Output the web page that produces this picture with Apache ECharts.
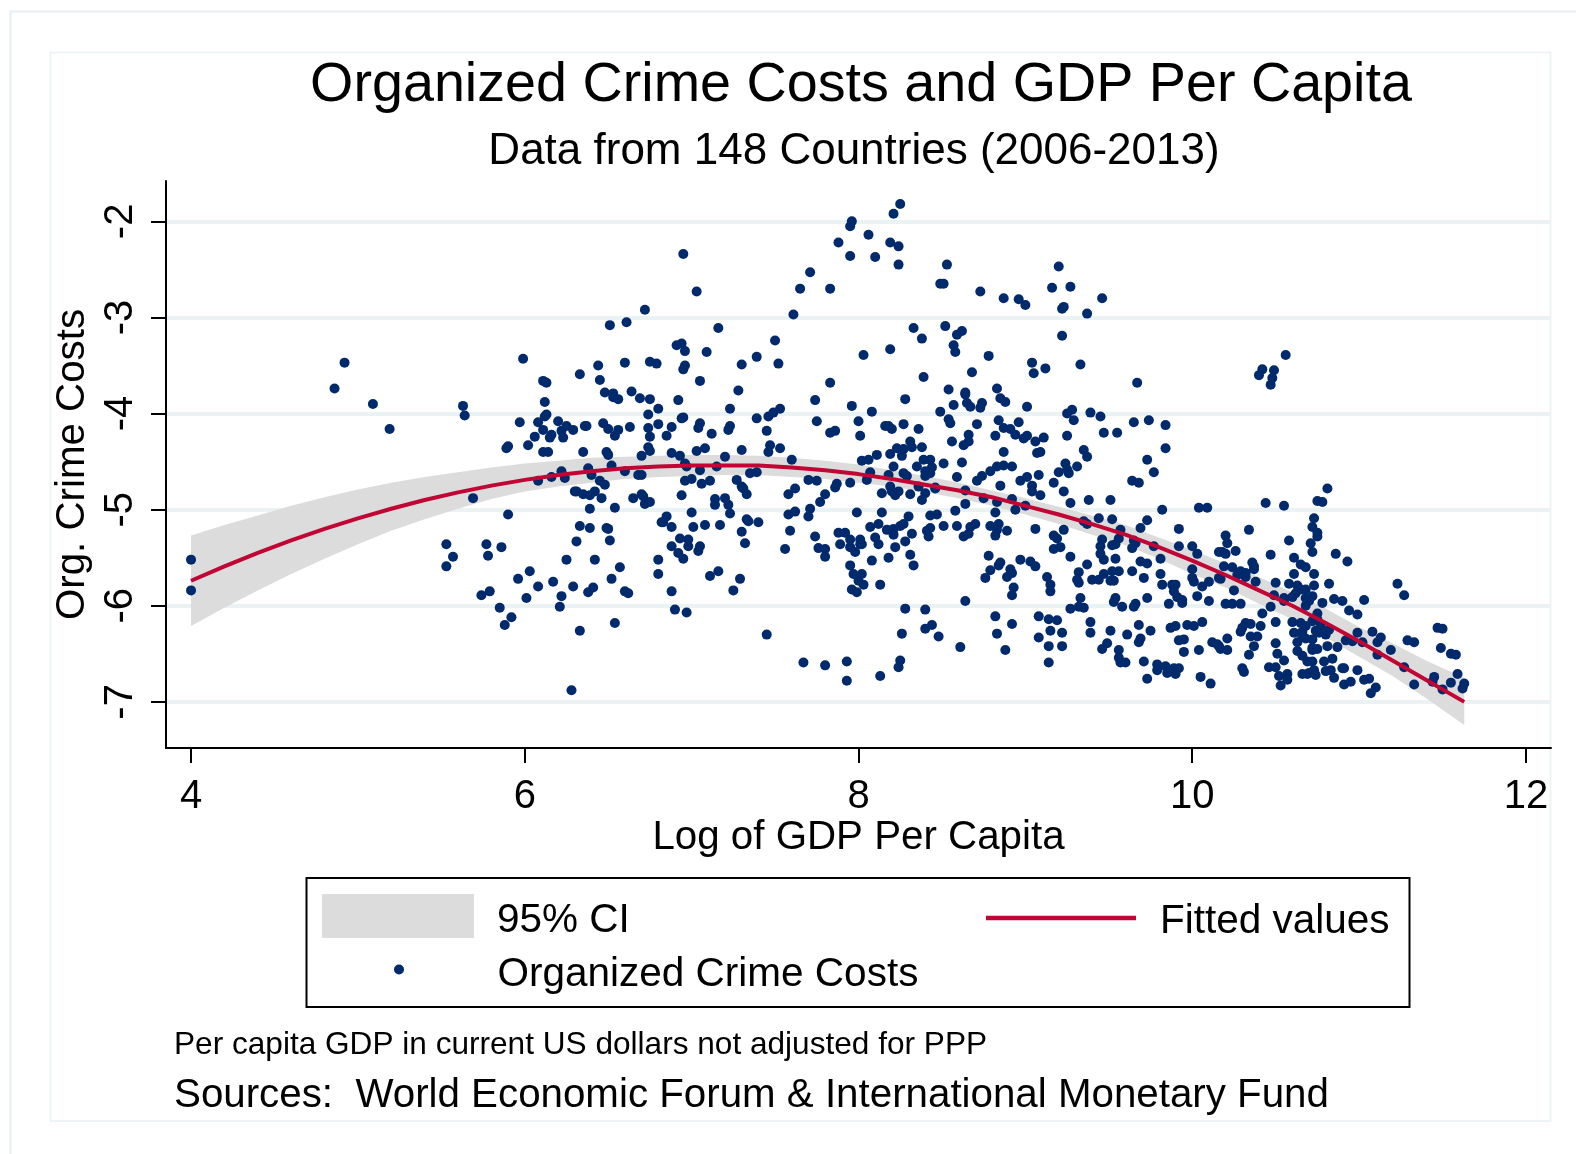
<!DOCTYPE html>
<html><head><meta charset="utf-8">
<style>html,body{margin:0;padding:0;background:#fff}#c{width:1576px;height:1154px}</style>
<script src="https://cdn.jsdelivr.net/npm/echarts@6/dist/echarts.min.js"></script></head>
<body><div id="c"></div>
<script>
const xTicks=[4,6,8,10,12];
const yTicks=[-7,-6,-5,-4,-3,-2];
const bandX=[4,4.2,4.4,4.6,4.8,5,5.2,5.4,5.6,5.8,6,6.2,6.4,6.6,6.8,7,7.2,7.4,7.6,7.8,8,8.2,8.4,8.6,8.8,9,9.2,9.4,9.6,9.8,10,10.2,10.4,10.6,10.8,11,11.2,11.4,11.63];
const fitted=[-5.74,-5.59,-5.45,-5.32,-5.2,-5.09,-4.99,-4.9,-4.82,-4.75,-4.69,-4.64,-4.6,-4.57,-4.55,-4.54,-4.54,-4.54,-4.56,-4.59,-4.63,-4.68,-4.74,-4.8,-4.87,-4.96,-5.05,-5.15,-5.26,-5.39,-5.53,-5.68,-5.84,-6,-6.18,-6.37,-6.57,-6.77,-7];
const upperCI=[-5.27,-5.16,-5.06,-4.96,-4.87,-4.79,-4.72,-4.66,-4.61,-4.56,-4.52,-4.49,-4.46,-4.45,-4.44,-4.43,-4.43,-4.44,-4.46,-4.49,-4.53,-4.59,-4.65,-4.72,-4.8,-4.88,-4.97,-5.06,-5.16,-5.29,-5.42,-5.56,-5.7,-5.86,-6.03,-6.22,-6.39,-6.57,-6.75];
const lowerCI=[-6.21,-6.02,-5.84,-5.67,-5.51,-5.36,-5.22,-5.1,-4.99,-4.89,-4.81,-4.76,-4.72,-4.68,-4.66,-4.65,-4.64,-4.64,-4.66,-4.68,-4.72,-4.76,-4.82,-4.88,-4.96,-5.05,-5.15,-5.26,-5.37,-5.51,-5.67,-5.81,-5.98,-6.14,-6.33,-6.53,-6.73,-6.96,-7.24];
const pointsA=[[4.92,-3.47],[4.86,-3.74],[5.09,-3.9],[5.19,-4.16],[5.63,-3.92],[5.64,-4.02],[5.99,-3.43],[5.97,-4.09],[6.08,-4.09],[6.11,-3.66],[6.13,-3.68],[6.12,-3.88],[6.13,-4.01],[6.12,-4.03],[6.2,-4.08],[6.11,-4.17],[6.16,-4.22],[6.15,-4.25],[6.06,-4.24],[6.02,-4.33],[5.9,-4.34],[5.89,-4.36],[6.11,-4.4],[6.14,-4.4],[6.22,-4.18],[6.25,-4.13],[6.23,-4.25],[6.29,-4.17],[6.36,-4.13],[6.37,-4.13],[6.33,-3.59],[6.44,-3.5],[6.45,-3.65],[6.51,-3.08],[6.61,-3.05],[6.72,-2.92],[6.6,-3.47],[6.75,-3.46],[6.79,-3.48],[6.48,-3.78],[6.53,-3.79],[6.53,-3.83],[6.56,-3.85],[6.64,-3.77],[6.69,-3.84],[6.75,-3.85],[6.8,-3.95],[6.74,-4.01],[6.47,-4.1],[6.5,-4.16],[6.56,-4.17],[6.54,-4.23],[6.63,-4.14],[6.74,-4.15],[6.8,-4.11],[6.75,-4.24],[6.74,-4.35],[6.75,-4.39],[6.7,-4.44],[6.35,-4.4],[6.49,-4.4],[6.5,-4.43],[6.52,-4.54],[6.38,-4.57],[6.6,-4.6],[6.22,-4.6],[6.16,-4.66],[6.24,-4.67],[6.4,-4.64],[6.45,-4.7],[6.68,-4.64],[6.7,-4.64],[6.08,-4.7]];
const pointsB=[[6.48,-4.74],[6.3,-4.81],[6.31,-4.81],[6.42,-4.81],[6.35,-4.84],[6.39,-4.85],[6.46,-4.88],[6.65,-4.88],[6.7,-4.84],[6.71,-4.86],[6.72,-4.94],[6.75,-4.92],[6.39,-4.99],[6.54,-4.98],[5.69,-4.88],[5.9,-5.05],[6.33,-5.17],[6.39,-5.19],[6.49,-5.19],[6.5,-5.2],[6.31,-5.33],[6.51,-5.32],[6.82,-5.13],[5.53,-5.36],[5.77,-5.36],[5.86,-5.39],[5.57,-5.49],[5.78,-5.48],[5.53,-5.59],[6.25,-5.52],[6.42,-5.52],[6.8,-5.52],[6.57,-5.6],[6.03,-5.64],[5.96,-5.72],[6.52,-5.72],[6.8,-5.67],[6.17,-5.75],[6.08,-5.8],[6.29,-5.8],[6.41,-5.81],[6.38,-5.86],[6.6,-5.85],[6.62,-5.87],[5.79,-5.85],[5.74,-5.89],[6.01,-5.92],[6.22,-5.9],[5.85,-6.02],[6.21,-6.01],[5.92,-6.12],[5.88,-6.2],[6.54,-6.18],[6.33,-6.26],[6.28,-6.88],[4,-5.52],[4,-5.84]];
const pointsC=[[6.88,-4.14],[6.85,-4.23],[6.88,-4.41],[6.95,-2.34],[7.03,-2.73],[7.16,-3.11],[6.91,-3.29],[6.94,-3.27],[6.96,-3.35],[7.09,-3.36],[6.96,-3.5],[6.95,-3.54],[7.05,-3.66],[7.28,-3.76],[7.3,-3.49],[7.39,-3.41],[7.5,-3.24],[7.52,-3.48],[7.61,-2.97],[7.65,-2.7],[7.71,-2.53],[7.83,-2.7],[7.88,-2.22],[7.95,-2.36],[7.95,-2.05],[7.96,-2],[8.06,-2.14],[8.1,-2.37],[8.19,-2.22],[8.24,-2.26],[8.24,-2.45],[8.21,-1.92],[8.25,-1.82],[8.49,-2.65],[8.33,-3.11],[8.38,-3.22],[8.19,-3.33],[8.03,-3.39],[8.39,-3.62],[7.83,-3.68],[7.74,-3.86],[8.28,-3.85],[7.96,-3.92],[8.08,-3.98],[8.49,-3.98],[6.92,-3.86],[7.23,-3.95],[6.95,-4.04],[6.94,-4.05],[7.05,-4.1],[7.04,-4.15],[7.12,-4.21],[7.23,-4.13],[7.22,-4.17],[7.39,-4.05],[7.46,-4.03],[7.49,-3.99],[7.53,-3.95],[7.45,-4.18],[7.75,-4.08],[7.86,-4.18],[7.83,-4.2],[8,-4.08],[8.01,-4.23],[8.16,-4.13],[8.18,-4.13],[8.2,-4.16],[8.27,-4.11],[8.36,-4.16],[7.47,-4.33],[7.46,-4.4],[7.53,-4.36],[7.3,-4.38],[7.08,-4.36],[7.03,-4.39],[6.93,-4.44],[7.2,-4.45],[7.6,-4.48],[6.96,-4.52],[6.97,-4.55],[7.15,-4.55],[7.05,-4.59],[7.35,-4.62],[7.39,-4.61],[8.31,-4.29],[8.32,-4.35],[8.23,-4.36],[8.27,-4.37],[8.38,-4.35],[8.19,-4.42],[8.26,-4.44],[8.11,-4.43],[8.02,-4.49],[8.06,-4.48],[8.21,-4.55],[8.35,-4.55],[8.39,-4.48],[8.43,-4.48],[8.44,-4.56],[8.4,-4.6],[8.43,-4.62],[8.07,-4.61],[8.18,-4.64],[8.27,-4.62],[8.29,-4.65]];
const pointsD=[[6.96,-4.7],[7,-4.68],[7.06,-4.73],[7.11,-4.7],[7.27,-4.69],[7.3,-4.76],[7.31,-4.78],[7.33,-4.84],[6.94,-4.85],[7.14,-4.89],[7.14,-4.95],[7.2,-4.88],[7.22,-4.95],[7.23,-5.04],[7,-5.03],[6.85,-5.07],[6.83,-5.13],[6.88,-5.18],[7.01,-5.18],[7.08,-5.16],[7.17,-5.16],[7.33,-5.1],[7.34,-5.12],[7.4,-5.13],[7.3,-5.23],[7.32,-5.35],[6.93,-5.3],[6.98,-5.31],[6.88,-5.38],[6.98,-5.38],[7.05,-5.38],[7.04,-5.43],[6.92,-5.45],[6.95,-5.51],[6.88,-5.85],[6.9,-6.04],[6.97,-6.07],[7.11,-5.69],[7.16,-5.64],[7.29,-5.72],[7.25,-5.84],[7.45,-6.3],[7.67,-6.59],[7.8,-6.62],[7.93,-6.58],[7.93,-6.78],[8.13,-6.73],[8.25,-6.57],[8.24,-6.64],[8.26,-6.29],[8.28,-6.03],[8.4,-6.04],[8.44,-6.2],[8.4,-6.24],[8.48,-6.32],[7.56,-5.41],[7.59,-5.22],[7.58,-5.05],[7.62,-5.02],[7.58,-4.84],[7.62,-4.78],[7.7,-4.69],[7.75,-4.7],[7.87,-4.73],[7.86,-4.77],[7.95,-4.72],[8.05,-4.69],[7.8,-4.84],[7.77,-4.92],[7.71,-4.99],[7.7,-5.07],[7.74,-5.28],[7.76,-5.4],[7.8,-5.41],[7.8,-5.49],[7.88,-5.24],[7.92,-5.24],[7.89,-5.36],[7.95,-5.31],[8.01,-5.31],[8.01,-5.36],[8.02,-5.36],[7.95,-5.39],[7.98,-5.44],[7.99,-5.03],[7.95,-5.58],[7.97,-5.67],[8.02,-5.67],[8,-5.74],[8.03,-5.78],[7.96,-5.83],[7.99,-5.86],[8.13,-5.78],[8.08,-5.53],[8.18,-5.5],[8.22,-5.39],[8.31,-5.47],[8.33,-5.58],[8.12,-5.36],[8.1,-5.29],[8.07,-5.18],[8.12,-5.15],[8.17,-5.21],[8.21,-5.2],[8.21,-5.26],[8.25,-5.17],[8.27,-5.15],[8.3,-5.07],[8.32,-5.25],[8.28,-5.33],[8.14,-5.03],[8.14,-4.83],[8.19,-4.76],[8.2,-4.81],[8.22,-4.85],[8.24,-4.81],[8.31,-4.84],[8.36,-4.76],[8.4,-4.83],[8.38,-4.9],[8.46,-4.77],[8.43,-5.06],[8.47,-5.05],[8.41,-5.22],[8.43,-5.19],[8.42,-5.28]];
const pointsE=[[8.53,-2.45],[8.51,-2.65],[8.73,-2.73],[8.87,-2.8],[8.96,-2.81],[9,-2.87],[9.2,-2.47],[9.16,-2.69],[9.27,-2.68],[9.23,-2.89],[9.22,-2.91],[9.37,-2.96],[9.46,-2.8],[8.52,-3.09],[8.62,-3.14],[8.59,-3.18],[8.57,-3.29],[8.58,-3.36],[8.78,-3.4],[9.22,-3.19],[9.04,-3.47],[9.05,-3.58],[9.12,-3.53],[9.33,-3.49],[8.68,-3.57],[9.67,-3.68],[8.54,-3.75],[8.64,-3.78],[8.64,-3.8],[8.65,-3.89],[8.67,-3.93],[8.57,-3.91],[8.74,-3.89],[8.73,-3.94],[8.83,-3.74],[8.85,-3.84],[8.88,-3.88],[9.01,-3.93],[8.54,-4.06],[8.55,-4.1],[8.71,-4.11],[8.84,-4.07],[8.96,-4.09],[8.87,-4.15],[8.91,-4.16],[8.94,-4.22],[8.82,-4.23],[8.66,-4.22],[8.66,-4.29],[8.63,-4.33],[8.56,-4.29],[9.01,-4.23],[8.99,-4.26],[9.11,-4.25],[9.06,-4.29],[9.25,-4.23],[9.47,-4.2],[9.55,-4.2],[9.65,-4.09],[9.74,-4.07],[9.84,-4.12],[9.28,-3.96],[9.25,-4],[9.29,-4.07],[9.39,-3.99],[9.45,-4.03],[9.84,-4.36],[9.73,-4.48],[9.77,-4.61],[9.64,-4.7],[9.68,-4.72],[8.87,-4.4],[9.09,-4.4],[9.07,-4.41],[9.35,-4.38],[9.37,-4.45],[9.24,-4.52],[9.31,-4.55],[9.2,-4.61],[9.26,-4.62],[9.25,-4.58],[8.62,-4.51],[8.51,-4.52],[8.4,-4.65],[8.92,-4.55],[8.87,-4.54],[8.83,-4.55],[8.79,-4.6],[8.74,-4.65],[8.71,-4.7],[8.59,-4.66],[9.01,-4.66],[8.97,-4.7],[9.08,-4.64],[9.17,-4.72],[9.04,-4.75],[9.04,-4.81],[9.09,-4.85],[9.23,-4.81],[8.85,-4.75],[8.64,-4.8],[8.46,-4.78],[8.92,-4.89],[8.75,-4.88],[9.38,-4.9],[9.51,-4.9],[9.27,-4.93]];
const pointsF=[[8.64,-4.94],[8.83,-4.92],[8.94,-5],[9,-4.96],[8.58,-5.01],[8.82,-5.03],[9.82,-5],[10.04,-4.98],[10.09,-4.98],[9.44,-5.09],[9.52,-5.1],[9.35,-5.12],[9.37,-5.15],[9.73,-5.11],[9.69,-5.19],[9.57,-5.21],[9.92,-5.2],[8.51,-5.17],[8.59,-5.17],[8.7,-5.15],[8.67,-5.18],[8.66,-5.25],[8.63,-5.28],[8.79,-5.17],[8.84,-5.15],[8.83,-5.21],[8.82,-5.27],[8.89,-5.22],[9.06,-5.2],[9.23,-5.21],[9.17,-5.27],[9.19,-5.3],[9.21,-5.39],[9.17,-5.41],[9.46,-5.31],[9.45,-5.38],[9.45,-5.46],[9.47,-5.52],[9.56,-5.3],[9.54,-5.36],[9.52,-5.37],[9.65,-5.32],[9.66,-5.35],[9.64,-5.4],[9.77,-5.38],[9.92,-5.38],[10,-5.38],[10.03,-5.46],[10.16,-5.44],[8.78,-5.48],[8.85,-5.55],[8.84,-5.58],[8.97,-5.52],[9.03,-5.54],[9.06,-5.59],[9.27,-5.49],[9.37,-5.57],[9.54,-5.51],[9.69,-5.54],[9.73,-5.56],[9.81,-5.51],[10,-5.62],[8.79,-5.63],[8.91,-5.62],[8.92,-5.66],[8.89,-5.7],[8.76,-5.71],[9.13,-5.7],[9.32,-5.65],[9.31,-5.73],[9.32,-5.76],[9.4,-5.73],[9.44,-5.73],[9.47,-5.67],[9.52,-5.64],[9.56,-5.64],[9.51,-5.74],[9.53,-5.74],[9.64,-5.64],[9.71,-5.71],[9.81,-5.67],[10,-5.71],[10.01,-5.75],[10.1,-5.75],[10.06,-5.8],[10.16,-5.71],[9.88,-5.78],[9.9,-5.78],[9.89,-5.85],[9.82,-5.78],[9.15,-5.78],[9.15,-5.85],[8.93,-5.81],[8.92,-5.89],[8.64,-5.95],[9.33,-5.92],[9.27,-6.03],[9.32,-6.01],[9.35,-6.02],[9.54,-5.92],[9.53,-5.96],[9.58,-6.01],[9.66,-5.98],[9.65,-6.01],[9.73,-5.92],[9.86,-5.98],[9.91,-5.91],[9.94,-5.94],[9.94,-5.97],[10.03,-5.9],[10.1,-5.95],[8.61,-6.43],[8.82,-6.11],[8.92,-6.19],[8.83,-6.29],[8.88,-6.46],[9.08,-6.11],[9.14,-6.14],[9.19,-6.15],[9.15,-6.26],[9.22,-6.28],[9.08,-6.33],[9.14,-6.42],[9.22,-6.42],[9.14,-6.59],[9.39,-6.17],[9.39,-6.28],[9.51,-6.26],[9.61,-6.3],[9.68,-6.2],[9.75,-6.26],[9.69,-6.34],[9.68,-6.38],[9.49,-6.39],[9.46,-6.45],[9.56,-6.46],[9.56,-6.54],[9.57,-6.59],[9.6,-6.59],[9.71,-6.58],[9.87,-6.23],[9.9,-6.21],[9.97,-6.2],[10.01,-6.21],[10.06,-6.17],[9.92,-6.36],[9.95,-6.35],[9.95,-6.48],[10.04,-6.46],[10.12,-6.38],[10.16,-6.42],[9.79,-6.61],[9.79,-6.67],[9.84,-6.63],[9.85,-6.7],[9.89,-6.65],[9.9,-6.71],[9.92,-6.65],[9.73,-6.76],[10.05,-6.74],[10.11,-6.81]];
const pointsG=[[10.56,-3.39],[10.42,-3.54],[10.4,-3.6],[10.49,-3.55],[10.48,-3.63],[10.47,-3.7],[10.81,-4.78],[10.75,-4.91],[10.78,-4.92],[10.44,-4.93],[10.55,-4.96],[10.73,-5.09],[10.72,-5.18],[10.34,-5.21],[10.2,-5.27],[10.75,-5.24],[10.75,-5.28],[10.58,-5.32],[10.71,-5.35],[10.21,-5.35],[10.18,-5.44],[10.2,-5.46],[10.26,-5.43],[10.72,-5.44],[10.47,-5.47],[10.86,-5.46],[10.93,-5.54],[10.61,-5.5],[10.36,-5.55],[10.37,-5.59],[10.37,-5.62],[10.65,-5.57],[10.68,-5.6],[10.19,-5.59],[10.24,-5.6],[10.29,-5.64],[10.27,-5.68],[10.32,-5.66],[10.32,-5.7],[10.17,-5.72],[10.38,-5.75],[10.61,-5.67],[10.73,-5.67],[10.5,-5.76],[10.58,-5.77],[10.73,-5.79],[10.82,-5.77],[10.63,-5.79],[10.65,-5.83],[10.68,-5.83],[10.25,-5.84],[10.49,-5.89],[10.62,-5.87],[10.6,-5.91],[10.55,-5.92],[10.55,-5.95],[10.72,-5.9],[10.68,-5.92],[10.7,-5.95],[10.68,-6],[10.78,-5.97],[10.85,-5.93],[10.9,-5.95],[11.03,-5.94],[11.23,-5.77],[11.27,-5.89],[10.2,-5.98],[10.24,-5.98],[10.29,-5.98],[10.47,-6.01],[10.42,-6.08],[10.94,-6.05],[10.99,-6.09],[10.75,-6.08],[10.75,-6.14],[10.72,-6.16],[10.5,-6.17],[10.6,-6.17],[10.65,-6.18],[10.32,-6.18],[10.35,-6.19],[10.41,-6.21],[10.3,-6.23],[10.29,-6.27],[10.77,-6.21],[10.74,-6.26],[10.68,-6.21],[10.66,-6.27],[10.66,-6.32],[10.61,-6.28],[10.82,-6.25],[10.8,-6.3],[10.76,-6.28],[10.99,-6.28],[11.08,-6.27],[11.13,-6.33],[11.11,-6.38],[10.35,-6.32],[10.39,-6.32],[10.21,-6.34],[10.15,-6.4],[10.17,-6.45],[10.21,-6.46],[10.68,-6.34],[10.72,-6.35],[10.63,-6.38],[10.5,-6.39],[10.37,-6.42],[10.92,-6.36],[10.96,-6.37],[11.02,-6.38],[11.29,-6.36],[11.33,-6.38],[10.81,-6.42],[10.87,-6.43],[10.72,-6.44],[10.72,-6.46],[10.75,-6.45],[10.63,-6.47],[11.19,-6.46],[11.49,-6.44],[11.55,-6.5],[11.58,-6.51],[11.11,-6.51],[10.34,-6.51],[10.51,-6.5],[10.66,-6.52],[10.55,-6.57],[10.84,-6.55],[10.69,-6.58],[10.72,-6.58],[10.79,-6.58],[10.3,-6.65],[10.31,-6.69],[10.46,-6.64],[10.5,-6.64],[11.27,-6.64],[10.91,-6.65],[10.9,-6.65],[10.99,-6.67],[10.8,-6.68],[10.83,-6.67],[10.73,-6.67],[10.7,-6.7],[10.66,-6.71],[10.74,-6.72],[10.69,-6.71],[10.57,-6.71],[10.52,-6.73],[10.57,-6.77],[10.85,-6.75],[10.53,-6.83],[11.03,-6.77],[11.06,-6.76],[10.95,-6.79],[10.91,-6.82],[11.1,-6.85],[11.07,-6.91],[11.33,-6.82],[11.45,-6.74],[11.44,-6.79],[11.5,-6.87],[11.55,-6.8],[11.59,-6.71],[11.63,-6.81],[11.62,-6.86],[11.47,-6.23],[11.5,-6.24]];

const scatterData=[].concat(pointsA,pointsB,pointsC,pointsD,pointsE,pointsF,pointsG);
const fitData=bandX.map((x,i)=>[x,fitted[i]]);
const bandData=bandX.map((x,i)=>[x,upperCI[i],lowerCI[i]]);
const FONT='"Liberation Sans",Arial,sans-serif';
const legendText=function(topPad,leftPad){
  return {rich:{a:{fontFamily:FONT,fontSize:40.5,color:'#000',padding:[topPad,0,0,leftPad]}}};
};
const chart=echarts.init(document.getElementById('c'),null,{renderer:'canvas'});
chart.setOption({
  animation:false,backgroundColor:'#fff',
  title:[
    {text:'Organized Crime Costs and GDP Per Capita',left:861,top:58,padding:0,textAlign:'center',textStyle:{fontFamily:FONT,fontSize:55.7,fontWeight:'normal',color:'#000'}},
    {text:'Data from 148 Countries (2006-2013)',left:854,top:130,padding:0,textAlign:'center',textStyle:{fontFamily:FONT,fontSize:44,fontWeight:'normal',color:'#000'}},
    {text:'Per capita GDP in current US dollars not adjusted for PPP',left:174,top:1029,padding:0,textStyle:{fontFamily:FONT,fontSize:31.6,fontWeight:'normal',color:'#000'}},
    {text:'Sources:  World Economic Forum & International Monetary Fund',left:174,top:1076,padding:0,textStyle:{fontFamily:FONT,fontSize:40.3,fontWeight:'normal',color:'#000'}}
  ],
  grid:{left:166,right:25,top:181,bottom:406,containLabel:false},
  xAxis:{type:'value',min:3.85,max:12.15,name:'Log of GDP Per Capita',nameLocation:'middle',nameGap:66,
    nameTextStyle:{fontFamily:FONT,fontSize:40.3,color:'#000'},
    axisLine:{onZero:false,lineStyle:{color:'#000',width:2}},
    axisTick:{length:15,customValues:xTicks,lineStyle:{color:'#000',width:2}},
    axisLabel:{customValues:xTicks,showMinLabel:true,showMaxLabel:true,margin:29,fontFamily:FONT,fontSize:40,color:'#000'},
    splitLine:{show:false}},
  yAxis:{type:'value',min:-7.48,max:-1.58,name:'Org. Crime Costs',nameLocation:'middle',nameGap:65,nameRotate:90,
    nameTextStyle:{fontFamily:FONT,fontSize:40.3,color:'#000'},
    axisLine:{onZero:false,lineStyle:{color:'#000',width:2}},
    axisTick:{length:15,customValues:yTicks,lineStyle:{color:'#000',width:2}},
    axisLabel:{customValues:yTicks,rotate:90,margin:25,fontFamily:FONT,fontSize:40,color:'#000'},
    splitLine:{show:true,lineStyle:{color:'#eaf2f3',width:4}}},
  legend:[
    {data:[{name:'95% CI',icon:'rect'}],left:322,top:894,padding:0,itemWidth:152,itemHeight:44,itemGap:0,formatter:'{a|{name}}',textStyle:legendText(10,18),selectedMode:false},
    {data:[{name:'Fitted values',icon:'rect'}],left:986,top:901,padding:0,itemWidth:150,itemHeight:4.5,formatter:'{a|{name}}',textStyle:legendText(7,19),selectedMode:false},
    {data:['Organized Crime Costs'],left:394,top:954,padding:0,itemWidth:10,itemHeight:10,formatter:'{a|{name}}',textStyle:legendText(10,88.5),selectedMode:false}
  ],
  graphic:[
    {type:'rect',z:-20,silent:true,shape:{x:10.5,y:11.5,width:1600,height:1200},style:{fill:'#fff',stroke:'#eaf2f3',lineWidth:2.5}},
    {type:'rect',z:-10,silent:true,shape:{x:50.5,y:52.5,width:1500,height:1068.5},style:{fill:'#fff',stroke:'#eef3f6',lineWidth:2}},
    {type:'rect',z:-5,silent:true,shape:{x:306.5,y:878,width:1103,height:129},style:{fill:'#fff',stroke:'#000',lineWidth:2}}
  ],
  series:[
    {type:'custom',name:'95% CI',coordinateSystem:'cartesian2d',data:bandData,z:2,clip:true,
      itemStyle:{color:'#dcdcdc'},encode:{x:0,y:[1,2]},
      renderItem:function(params,api){
        if(params.dataIndex!==0) return null;
        const up=bandData.map(d=>api.coord([d[0],d[1]]));
        const lo=bandData.map(d=>api.coord([d[0],d[2]])).reverse();
        return {type:'polygon',shape:{points:up.concat(lo)},style:{fill:'#dcdcdc'}};
      }},
    {type:'scatter',name:'Organized Crime Costs',data:scatterData,symbolSize:10,z:3,itemStyle:{color:'#002a6c',opacity:1}},
    {type:'line',name:'Fitted values',data:fitData,showSymbol:false,symbol:'none',smooth:false,z:4,lineStyle:{color:'#c10534',width:4},itemStyle:{color:'#c10534'}}
  ]
});
</script></body></html>
